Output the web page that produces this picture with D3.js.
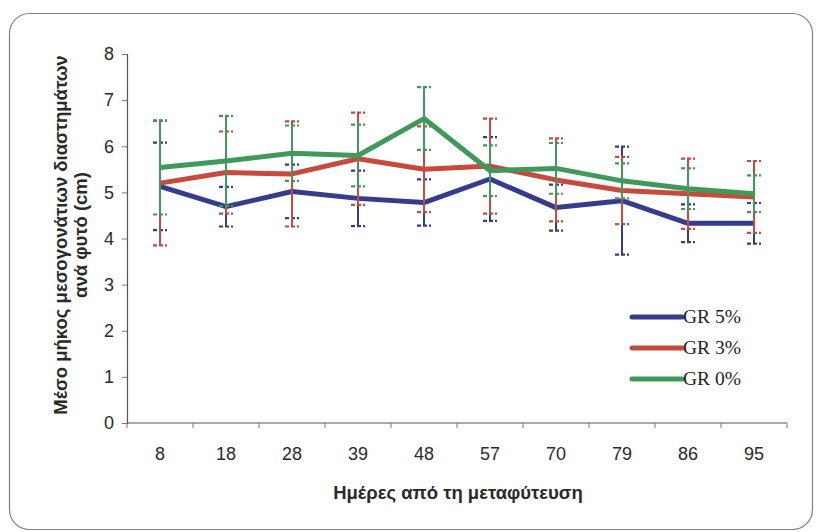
<!DOCTYPE html>
<html>
<head>
<meta charset="utf-8">
<script src="https://cdn.jsdelivr.net/npm/d3@7"></script>
<style>
  body { margin: 0; background: #fff; }
</style>
</head>
<body>
<div id="chart"></div>
<script>
const days = ["8", "18", "28", "39", "48", "57", "70", "79", "86", "95"];
const yTicks = [0, 1, 2, 3, 4, 5, 6, 7, 8];
const seriesNames = ["GR 5%", "GR 3%", "GR 0%"];
const gr5 = [5.13, 4.69, 5.02, 4.87, 4.78, 5.29, 4.67, 4.82, 4.33, 4.33];
const gr5err = [0.95, 0.43, 0.58, 0.6, 0.5, 0.91, 0.5, 1.17, 0.41, 0.44];
const gr3 = [5.2, 5.43, 5.4, 5.73, 5.5, 5.57, 5.27, 5.04, 4.97, 4.9];
const gr3err = [1.35, 0.89, 1.14, 1.0, 0.93, 1.03, 0.9, 0.73, 0.76, 0.78];
const gr0 = [5.54, 5.68, 5.85, 5.8, 6.6, 5.47, 5.52, 5.25, 5.08, 4.97];
const gr0err = [1.02, 0.98, 0.6, 0.67, 0.68, 0.55, 0.55, 0.38, 0.44, 0.4];

const colors = ["#353d8b", "#c64a3e", "#40995a"];
const series = [
  { name: seriesNames[0], values: gr5, errs: gr5err, color: colors[0] },
  { name: seriesNames[1], values: gr3, errs: gr3err, color: colors[1] },
  { name: seriesNames[2], values: gr0, errs: gr0err, color: colors[2] }
];

const width = 817;
const height = 532;
const margin = { top: 54, right: 30, bottom: 109, left: 127 };
const font = "Liberation Sans, Arial, sans-serif";

const svg = d3.select("#chart")
  .append("svg")
  .attr("width", width)
  .attr("height", height);

// outer frame
svg.append("rect")
  .attr("x", 9.5).attr("y", 13.5)
  .attr("width", 803).attr("height", 516)
  .attr("rx", 20)
  .attr("fill", "#fff")
  .attr("stroke", "#808080")
  .attr("stroke-width", 1.2);

const x = d3.scaleBand()
  .domain(days)
  .range([margin.left, width - margin.right])
  .padding(0);

const y = d3.scaleLinear()
  .domain([0, 8])
  .range([height - margin.bottom, margin.top]);

const cx = d => x(d) + x.bandwidth() / 2;

// y axis
const yAxis = svg.append("g")
  .attr("transform", `translate(${margin.left},0)`)
  .call(d3.axisLeft(y).tickValues(yTicks).tickSize(5).tickPadding(8).tickFormat(d3.format("d")));
yAxis.selectAll("text")
  .attr("font-family", font)
  .attr("font-size", 18)
  .attr("fill", "#2a2a2a");
yAxis.selectAll("line").attr("stroke", "#777");
yAxis.select(".domain").attr("stroke", "#555").attr("stroke-width", 1.2);

// x axis: ticks between categories, labels centred
const xg = svg.append("g");
xg.append("line")
  .attr("x1", margin.left).attr("x2", width - margin.right)
  .attr("y1", y(0)).attr("y2", y(0))
  .attr("stroke", "#555").attr("stroke-width", 1.2);
xg.selectAll(".xt")
  .data(days.map(d => x(d)).concat([x(days[days.length - 1]) + x.bandwidth()]))
  .join("line")
  .attr("class", "xt")
  .attr("x1", d => d).attr("x2", d => d)
  .attr("y1", y(0)).attr("y2", y(0) + 5)
  .attr("stroke", "#777");
xg.selectAll(".xl")
  .data(days)
  .join("text")
  .attr("class", "xl")
  .attr("x", d => cx(d))
  .attr("y", y(0) + 37)
  .attr("text-anchor", "middle")
  .attr("font-family", font)
  .attr("font-size", 18)
  .attr("fill", "#2a2a2a")
  .text(d => d);

// error bars and lines
const line = d3.line()
  .x((d, i) => cx(days[i]))
  .y(d => y(d));

series.forEach(s => {
  const g = svg.append("g");
  const eb = g.selectAll(".eb")
    .data(s.values.map((v, i) => ({ day: days[i], v: v, e: s.errs[i] })))
    .join("g");
  eb.append("line")
    .attr("x1", d => cx(d.day)).attr("x2", d => cx(d.day))
    .attr("y1", d => y(d.v + d.e)).attr("y2", d => y(d.v - d.e))
    .attr("stroke", s.color).attr("stroke-width", 2);
  [1, -1].forEach(sign => {
    eb.append("line")
      .attr("x1", d => cx(d.day) - 7).attr("x2", d => cx(d.day) + 7)
      .attr("y1", d => y(d.v + sign * d.e)).attr("y2", d => y(d.v + sign * d.e))
      .attr("stroke", s.color).attr("stroke-width", 2.2)
      .attr("stroke-dasharray", "4,2");
  });
  g.append("path")
    .datum(s.values)
    .attr("d", line)
    .attr("fill", "none")
    .attr("stroke", s.color)
    .attr("stroke-width", 5)
    .attr("stroke-linejoin", "round");
});

// legend
const legend = svg.append("g").attr("transform", "translate(632,317)");
series.forEach((s, i) => {
  legend.append("line")
    .attr("x1", 0).attr("x2", 50)
    .attr("y1", i * 31).attr("y2", i * 31)
    .attr("stroke", s.color).attr("stroke-width", 5)
    .attr("stroke-linecap", "round");
  legend.append("text")
    .attr("x", 51).attr("y", i * 31 + 6)
    .attr("font-family", "Liberation Serif, Times New Roman, serif")
    .attr("font-size", 19.5)
    .attr("fill", "#222")
    .text(s.name);
});

// axis titles
svg.append("text")
  .attr("x", 458).attr("y", 499)
  .attr("text-anchor", "middle")
  .attr("font-family", font)
  .attr("font-weight", "bold")
  .attr("font-size", 18.5)
  .attr("fill", "#2a2a2a")
  .text("Ημέρες από τη μεταφύτευση");

const yt = svg.append("text")
  .attr("transform", "translate(0,235) rotate(-90)")
  .attr("text-anchor", "middle")
  .attr("font-family", font)
  .attr("font-weight", "bold")
  .attr("font-size", 18.5)
  .attr("fill", "#2a2a2a");
yt.append("tspan").attr("x", 0).attr("y", 67).text("Μέσο μήκος μεσογονάτιων διαστημάτων");
yt.append("tspan").attr("x", 0).attr("y", 87).text("ανά φυτό (cm)");
</script>
</body>
</html>
